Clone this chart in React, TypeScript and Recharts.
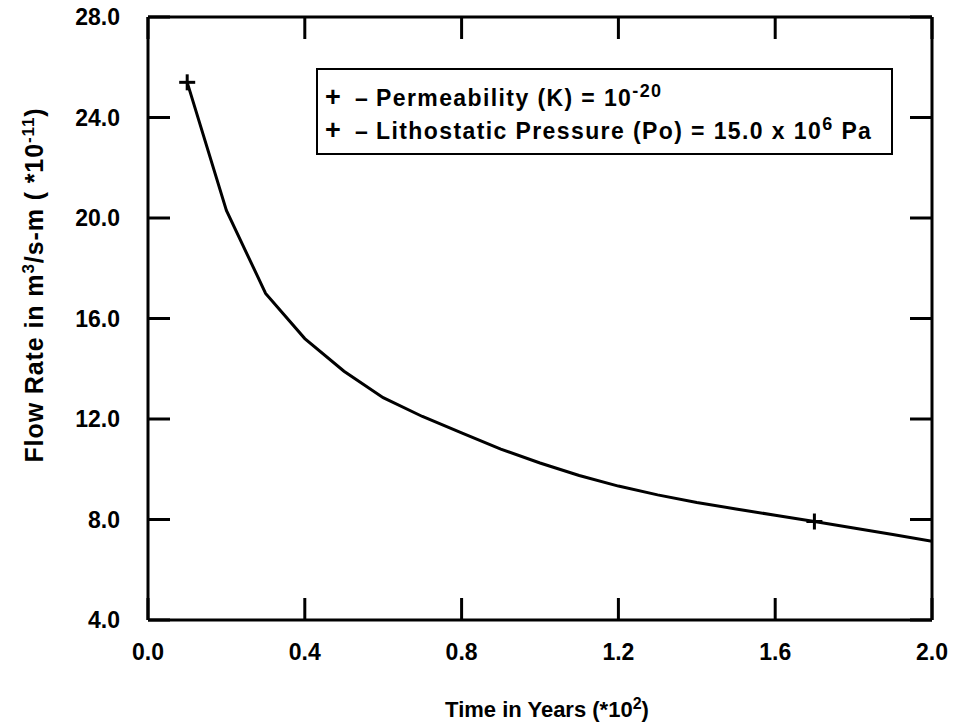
import { ComposedChart, Line, Scatter, XAxis, YAxis } from "recharts";

// time in years (*10^2) and flow rate (*10^-11 m3/s-m)
const years = [0.1, 0.2, 0.3, 0.4, 0.5, 0.6, 0.7, 0.8, 0.9, 1.0, 1.1, 1.2, 1.3, 1.4, 1.5, 1.6, 1.7, 1.8, 1.9, 2.0];
const flowRate = [25.4, 20.3, 17.0, 15.2, 13.9, 12.85, 12.1, 11.45, 10.8, 10.25, 9.75, 9.33, 8.98, 8.68, 8.42, 8.17, 7.92, 7.66, 7.4, 7.13];

// "+" markers
const markerYears = [0.1, 1.7];
const markerFlow = [25.4, 7.92];

const xTicks = [0, 0.4, 0.8, 1.2, 1.6, 2.0];
const yTicks = [4, 8, 12, 16, 20, 24, 28];

const data = years.map((t, i) => ({ t, q: flowRate[i] }));
const markers = markerYears.map((t, i) => ({ t, q: markerFlow[i] }));

const font = "'Liberation Sans', Arial, Helvetica, sans-serif";
const TICK_LEN = 22;
const INK = "#000";

function BottomTick({ x, y, payload }: any) {
  return (
    <g>
      <line x1={x} y1={y} x2={x} y2={y - TICK_LEN} stroke={INK} strokeWidth={3} />
      <text x={x} y={y + 40} textAnchor="middle" fontFamily={font} fontWeight="bold" fontSize={23} fill={INK}>
        {Number(payload.value).toFixed(1)}
      </text>
    </g>
  );
}

function TopTick({ x, y }: any) {
  return <line x1={x} y1={y} x2={x} y2={y + TICK_LEN} stroke={INK} strokeWidth={3} />;
}

function LeftTick({ x, y, payload }: any) {
  return (
    <g>
      <line x1={x} y1={y} x2={x + TICK_LEN} y2={y} stroke={INK} strokeWidth={3} />
      <text x={x - 28} y={y + 8} textAnchor="end" fontFamily={font} fontWeight="bold" fontSize={23} fill={INK}>
        {Number(payload.value).toFixed(1)}
      </text>
    </g>
  );
}

function RightTick({ x, y }: any) {
  return <line x1={x} y1={y} x2={x - TICK_LEN} y2={y} stroke={INK} strokeWidth={3} />;
}

function Plus({ cx, cy }: any) {
  return (
    <g>
      <line x1={cx - 8} y1={cy} x2={cx + 8} y2={cy} stroke={INK} strokeWidth={3} />
      <line x1={cx} y1={cy - 8} x2={cx} y2={cy + 8} stroke={INK} strokeWidth={3} />
    </g>
  );
}

function XTitle({ viewBox }: any) {
  const cx = viewBox.x + viewBox.width / 2 + 7;
  return (
    <text x={cx} y={viewBox.y + 97} textAnchor="middle" fontFamily={font} fontWeight="bold" fontSize={22} fill={INK}>
      Time in Years (*10<tspan dy={-8} fontSize={16}>2</tspan>
      <tspan dy={8}>)</tspan>
    </text>
  );
}

function YTitle() {
  const x = 43;
  const y = 285;
  return (
    <text x={x} y={y} transform={`rotate(-90, ${x}, ${y})`} textAnchor="middle" fontFamily={font} fontWeight="bold" fontSize={25} letterSpacing={0.9} fill={INK}>
      Flow Rate in m<tspan dy={-9} fontSize={17}>3</tspan>
      <tspan dy={9}>/s-m ( *10</tspan>
      <tspan dy={-9} fontSize={17}>-11</tspan>
      <tspan dy={9}>)</tspan>
    </text>
  );
}

const sup = { fontSize: 18, position: "relative" as const, top: -9 };

function LegendBox() {
  return (
    <div
      style={{
        position: "absolute",
        left: 316,
        top: 68,
        width: 577,
        height: 87,
        border: "2px solid #000",
        boxSizing: "border-box",
        background: "#fff",
        fontFamily: font,
        fontWeight: "bold",
        fontSize: 23,
        letterSpacing: 1.4,
        lineHeight: "30px",
        paddingTop: 12,
        paddingLeft: 7,
        color: INK,
        whiteSpace: "nowrap",
      }}
    >
      <div>
        <span style={{ display: "inline-block", width: 30, fontSize: 27 }}>+</span>
        <span style={{ display: "inline-block", width: 21 }}>–</span>
        Permeability (K) = 10<span style={sup}>-20</span>
      </div>
      <div>
        <span style={{ display: "inline-block", width: 30, fontSize: 27 }}>+</span>
        <span style={{ display: "inline-block", width: 21 }}>–</span>
        Lithostatic Pressure (Po) = 15.0 x 10<span style={sup}>6</span> Pa
      </div>
    </div>
  );
}

export default function App() {
  return (
    <div style={{ position: "absolute", left: 0, top: 0, width: 955, height: 724, background: "#fff" }}>
      <ComposedChart width={955} height={724} data={data} margin={{ top: 16, right: 22, bottom: 0, left: 0 }}>
        <XAxis
          xAxisId="b"
          dataKey="t"
          type="number"
          domain={[0, 2]}
          ticks={xTicks}
          allowDataOverflow
          height={104}
          tickSize={0}
          tickMargin={0}
          tickLine={false}
          axisLine={{ stroke: INK, strokeWidth: 3 }}
          tick={<BottomTick />}
          label={(props: any) => <XTitle {...props} />}
        />
        <XAxis
          xAxisId="t"
          orientation="top"
          dataKey="t"
          type="number"
          domain={[0, 2]}
          ticks={xTicks}
          allowDataOverflow
          height={1}
          tickSize={0}
          tickMargin={0}
          tickLine={false}
          axisLine={{ stroke: INK, strokeWidth: 3 }}
          tick={<TopTick />}
        />
        <YAxis
          yAxisId="l"
          type="number"
          domain={[4, 28]}
          ticks={yTicks}
          allowDataOverflow
          width={148}
          tickSize={0}
          tickMargin={0}
          tickLine={false}
          axisLine={{ stroke: INK, strokeWidth: 3 }}
          tick={<LeftTick />}
          label={() => <YTitle />}
        />
        <YAxis
          yAxisId="r"
          orientation="right"
          type="number"
          domain={[4, 28]}
          ticks={yTicks}
          allowDataOverflow
          width={1}
          tickSize={0}
          tickMargin={0}
          tickLine={false}
          axisLine={{ stroke: INK, strokeWidth: 3 }}
          tick={<RightTick />}
        />
        <Line
          xAxisId="b"
          yAxisId="l"
          type="linear"
          dataKey="q"
          stroke={INK}
          strokeWidth={3}
          dot={false}
          activeDot={false}
          isAnimationActive={false}
        />
        <Scatter
          xAxisId="b"
          yAxisId="l"
          data={markers}
          dataKey="q"
          shape={<Plus />}
          isAnimationActive={false}
        />
      </ComposedChart>
      <LegendBox />
    </div>
  );
}
